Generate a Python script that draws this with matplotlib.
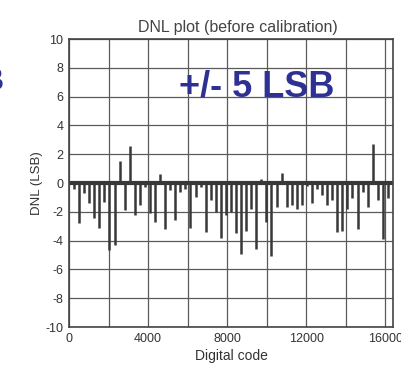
import numpy as np
import matplotlib.pyplot as plt
from matplotlib.ticker import MultipleLocator

plt.rcParams['font.family'] = ['Liberation Sans', 'DejaVu Sans']
plt.rcParams['axes.unicode_minus'] = False

# DNL error of every 256th code (the large steps), LSB
step = 256
dnl = [-0.45, -2.8, -0.7, -1.4, -2.4, -3.1, -1.3, -4.65, -4.3, 1.55,
       -1.9, 2.55, -2.2, -1.5, -0.3, -2.05, -2.7, 0.65, -3.2, -0.5,
       -2.6, -0.6, -0.45, -3.1, -0.95, -0.3, -3.4, -1.2, -2.0, -3.8,
       -2.2, -2.0, -3.5, -4.9, -3.3, -1.8, -4.6, 0.25, -2.7, -5.1,
       -1.65, 0.7, -1.65, -1.55, -1.8, -1.5, -0.2, -1.4, -0.45, -0.8,
       -1.5, -1.15, -3.4, -3.3, -1.8, -1.05, -3.2, -0.65, -1.65, 2.7,
       -1.15, -3.9, -1.05]
codes = np.arange(1, len(dnl) + 1) * step
n_codes = 16384

x_ticks = [0, 4000, 8000, 12000, 16000]
y_ticks = [-10, -8, -6, -4, -2, 0, 2, 4, 6, 8, 10]

ink = '#383838'
grid_c = '#5a5a5a'
blue = '#2e3192'

fig = plt.figure(figsize=(4.02, 3.68), dpi=100)
ax = fig.add_axes([0.1716, 0.1114, 0.806, 0.7826])

ax.vlines(codes, 0, dnl, color=ink, lw=1.8)
ax.axhline(0, color=ink, lw=3.0)

ax.set_xlim(0, n_codes)
ax.set_ylim(-10, 10)
ax.set_xticks(x_ticks)
ax.xaxis.set_minor_locator(MultipleLocator(2000))
ax.set_yticks(y_ticks)
ax.grid(True, which='both', color=grid_c, lw=0.9)
ax.set_axisbelow(True)
ax.tick_params(which='both', length=0, labelsize=9, labelcolor='#333333', pad=4)
for s in ax.spines.values():
    s.set_color('#444444')
    s.set_linewidth(1.2)

ax.set_title('DNL plot (before calibration)', fontsize=11.5, color='#444444', pad=5, x=0.52)
ax.set_xlabel('Digital code', fontsize=10, color='#333333', labelpad=3)
ax.set_ylabel('DNL (LSB)', fontsize=9.5, color='#333333', labelpad=2)

ax.text(0.58, 0.835, '+/- 5 LSB', transform=ax.transAxes, ha='center', va='center',
        fontsize=26, fontweight='bold', color=blue)

# edges of neighbouring slide text
fig.text(-0.018, 0.777, 'B', ha='center', va='center', fontsize=22,
         fontweight='bold', color=blue)
fig.text(-0.004, 0.08, ')', ha='center', va='center', fontsize=10, color='#888888')

fig.savefig('out.png', dpi=100)
